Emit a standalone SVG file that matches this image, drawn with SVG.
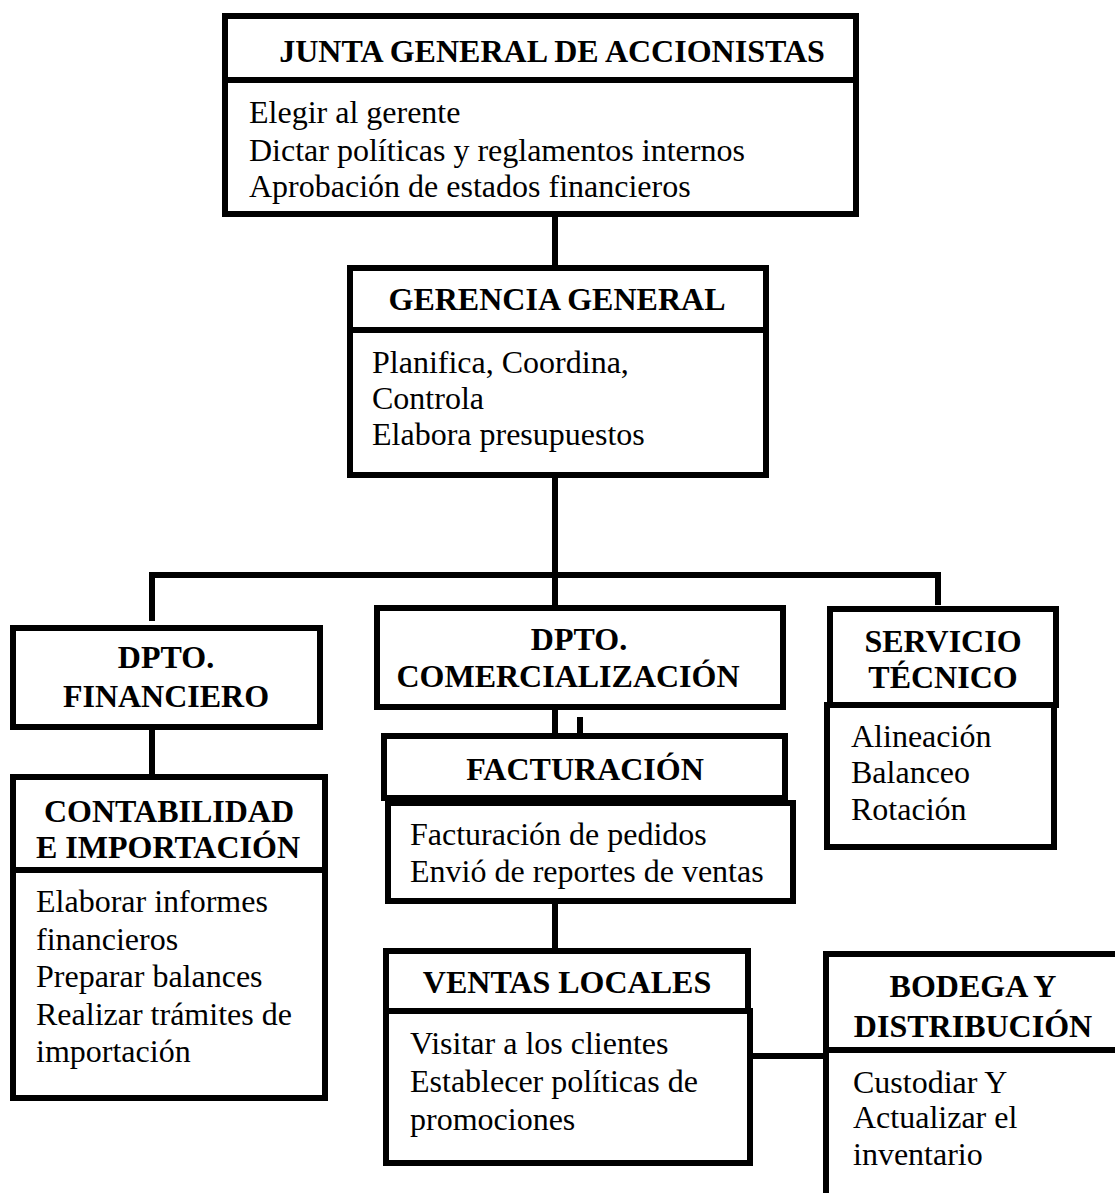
<svg xmlns="http://www.w3.org/2000/svg" width="1115" height="1193" viewBox="0 0 1115 1193">
<style>
.box{fill:#fff;stroke:#000;stroke-width:6}
.ln{stroke:#000;stroke-width:6;fill:none}
.t{font-family:"Liberation Serif","Times New Roman",serif;font-size:32px;fill:#000}
.h{font-weight:bold;text-anchor:middle}
</style>
<rect width="1115" height="1193" fill="#fff"/>
<g id="connectors">
<line class="ln" x1="555" y1="214" x2="555" y2="268"/>
<line class="ln" x1="555" y1="475" x2="555" y2="608"/>
<path class="ln" d="M152 621 V575 H938 V605"/>
<line class="ln" x1="152" y1="727" x2="152" y2="777"/>
<line class="ln" x1="555" y1="707" x2="555" y2="736"/>
<line class="ln" x1="580" y1="717" x2="580" y2="736"/>
<line class="ln" x1="555" y1="901" x2="555" y2="951"/>
<line class="ln" x1="745" y1="1056" x2="826" y2="1056"/>
</g>
<g id="junta">
<rect class="box" x="225" y="16" width="631" height="198"/>
<line class="ln" x1="225" y1="80" x2="856" y2="80"/>
<text class="t h" x="552" y="62">JUNTA GENERAL DE ACCIONISTAS</text>
<text class="t" x="249" y="123">Elegir al gerente</text>
<text class="t" x="249" y="161">Dictar políticas y reglamentos internos</text>
<text class="t" x="249" y="197">Aprobación de estados financieros</text>
</g>
<g id="gerencia">
<rect class="box" x="350" y="268" width="416" height="207"/>
<line class="ln" x1="350" y1="330" x2="766" y2="330"/>
<text class="t h" x="557" y="310">GERENCIA GENERAL</text>
<text class="t" x="372" y="373">Planifica, Coordina,</text>
<text class="t" x="372" y="409">Controla</text>
<text class="t" x="372" y="445">Elabora presupuestos</text>
</g>
<g id="financiero">
<rect class="box" x="13" y="628" width="307" height="99"/>
<text class="t h" x="166" y="668">DPTO.</text>
<text class="t h" x="166" y="707">FINANCIERO</text>
</g>
<g id="contabilidad">
<rect class="box" x="13" y="777" width="312" height="321"/>
<line class="ln" x1="13" y1="870" x2="325" y2="870"/>
<text class="t h" x="169" y="822">CONTABILIDAD</text>
<text class="t h" x="168" y="858">E IMPORTACIÓN</text>
<text class="t" x="36" y="912">Elaborar informes</text>
<text class="t" x="36" y="950">financieros</text>
<text class="t" x="36" y="987">Preparar balances</text>
<text class="t" x="36" y="1025">Realizar trámites de</text>
<text class="t" x="36" y="1062">importación</text>
</g>
<g id="comercializacion">
<rect class="box" x="377" y="608" width="406" height="99"/>
<text class="t h" x="579" y="650">DPTO.</text>
<text class="t h" x="568" y="687">COMERCIALIZACIÓN</text>
</g>
<g id="servicio">
<rect class="box" x="830" y="609" width="226" height="96"/>
<rect class="box" x="827" y="705" width="227" height="142"/>
<text class="t h" x="943" y="652">SERVICIO</text>
<text class="t h" x="943" y="688">TÉCNICO</text>
<text class="t" x="851" y="747">Alineación</text>
<text class="t" x="851" y="783">Balanceo</text>
<text class="t" x="851" y="820">Rotación</text>
</g>
<g id="facturacion">
<rect class="box" x="384" y="736" width="401" height="62"/>
<rect class="box" x="388" y="803" width="405" height="98"/>
<text class="t h" x="585" y="780">FACTURACIÓN</text>
<text class="t" x="410" y="845">Facturación de pedidos</text>
<text class="t" x="410" y="882">Envió de reportes de ventas</text>
</g>
<g id="ventas">
<rect class="box" x="386" y="951" width="362" height="60"/>
<rect class="box" x="386" y="1011" width="364" height="152"/>
<text class="t h" x="567" y="993">VENTAS LOCALES</text>
<text class="t" x="410" y="1054">Visitar a los clientes</text>
<text class="t" x="410" y="1092">Establecer políticas de</text>
<text class="t" x="410" y="1130">promociones</text>
</g>
<g id="bodega">
<rect class="box" x="826" y="954" width="400" height="400"/>
<line class="ln" x1="826" y1="1050" x2="1120" y2="1050"/>
<text class="t h" x="973" y="997">BODEGA Y</text>
<text class="t h" x="973" y="1037">DISTRIBUCIÓN</text>
<text class="t" x="853" y="1093">Custodiar Y</text>
<text class="t" x="853" y="1128">Actualizar el</text>
<text class="t" x="853" y="1165">inventario</text>
</g>
</svg>
